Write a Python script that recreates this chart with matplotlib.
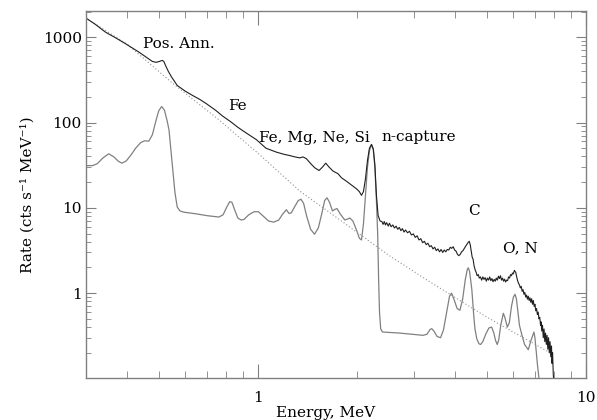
import matplotlib
matplotlib.use("Agg")
import matplotlib.pyplot as plt
from matplotlib.ticker import FixedLocator, LogLocator, NullFormatter, FixedFormatter

plt.rcParams['font.family'] = 'DejaVu Serif'

# Total measured spectrum (energy in MeV, rate in cts/s/MeV)
total_E = [0.299, 0.32, 0.344, 0.37, 0.396, 0.435, 0.478, 0.491, 0.502, 0.512,
           0.518, 0.524, 0.535, 0.547, 0.569, 0.60, 0.633, 0.666, 0.70, 0.745,
           0.78, 0.831, 0.87, 0.92, 0.991, 1.06, 1.14, 1.20, 1.252, 1.30,
           1.343, 1.375, 1.408, 1.45, 1.492, 1.538, 1.575, 1.612, 1.65, 1.696,
           1.757, 1.80, 1.864, 1.93, 2.00, 2.04, 2.071, 2.10, 2.13, 2.16,
           2.19, 2.222, 2.25, 2.275, 2.30, 2.327,
           2.36, 2.39, 2.41, 2.43, 2.45, 2.47, 2.50, 2.52, 2.55, 2.58,
           2.61, 2.64, 2.67, 2.70, 2.73, 2.76, 2.79, 2.82, 2.86, 2.90,
           2.94, 2.98, 3.02, 3.06, 3.10, 3.14, 3.18, 3.22, 3.26, 3.30,
           3.34, 3.38, 3.42, 3.46, 3.50, 3.54, 3.58, 3.62, 3.66, 3.70,
           3.74, 3.78, 3.82, 3.86, 3.90, 3.94, 3.98, 4.02, 4.06, 4.10,
           4.14, 4.18, 4.22, 4.26, 4.30, 4.34, 4.38, 4.41, 4.44, 4.47,
           4.50, 4.53, 4.56, 4.60, 4.63, 4.66, 4.70, 4.73, 4.77, 4.81,
           4.85, 4.89, 4.93, 4.97, 5.01, 5.05, 5.09, 5.13, 5.17, 5.21,
           5.25, 5.29, 5.33, 5.37, 5.41, 5.45, 5.49, 5.53, 5.57, 5.61,
           5.65, 5.69, 5.73, 5.77, 5.81, 5.85, 5.89, 5.93, 5.97, 6.01,
           6.05, 6.08, 6.11, 6.15, 6.19, 6.23, 6.27, 6.31, 6.35, 6.39,
           6.43, 6.47, 6.51, 6.55, 6.59, 6.63, 6.67, 6.71, 6.75, 6.79,
           6.83, 6.87, 6.91, 6.95, 6.99, 7.03, 7.07, 7.11, 7.15, 7.19,
           7.23, 7.27, 7.30, 7.33, 7.37, 7.41, 7.45, 7.49, 7.53, 7.57,
           7.61, 7.65, 7.69, 7.73, 7.77, 7.81, 7.85, 7.88, 7.91, 7.95,
           7.98]
total_R = [1693, 1420, 1147, 980, 839, 669, 520, 508, 520, 535,
           520, 467, 395, 341, 272, 235, 208, 187, 165, 139,
           120, 101, 88, 76, 63, 50, 45, 42.5, 41, 39.5,
           38.5, 39.5, 37.6, 33, 29.5, 27.4, 30, 33.4, 30, 27,
           25.1, 22.5, 20.5, 18.5, 16.7, 15.5, 14.0, 15.5, 22, 36,
           50, 55.4, 49, 32, 14, 8.15,
           7.0, 6.9, 6.4, 6.9, 6.3, 6.7, 6.1, 6.6, 6.0, 6.3,
           5.8, 6.1, 5.6, 5.9, 5.4, 5.7, 5.2, 5.5, 5.1, 5.3,
           4.8, 4.95, 4.5, 4.7, 4.2, 4.35, 3.9, 4.05, 3.7, 3.85,
           3.5, 3.6, 3.3, 3.45, 3.15, 3.3, 3.05, 3.25, 3.0, 3.2,
           3.05, 3.25, 3.2, 3.45, 3.35, 3.5, 3.2, 3.1, 2.85, 2.75,
           2.85, 3.05, 3.15, 3.35, 3.55, 3.75, 3.95, 4.05, 3.7, 3.1,
           2.65, 2.5, 2.1, 1.85, 1.75, 1.6, 1.65, 1.5, 1.55, 1.42,
           1.55, 1.45, 1.52, 1.38, 1.5, 1.42, 1.55, 1.4, 1.48, 1.36,
           1.45, 1.38, 1.5, 1.42, 1.58, 1.48, 1.6, 1.42, 1.5, 1.38,
           1.46, 1.35, 1.42, 1.4, 1.55, 1.5, 1.65, 1.6, 1.72, 1.68,
           1.85, 1.8, 1.75, 1.55, 1.4, 1.3, 1.25, 1.15, 1.2, 1.05,
           1.1, 0.97, 1.02, 0.9, 0.95, 0.85, 0.92, 0.82, 0.88, 0.78,
           0.86, 0.74, 0.82, 0.7, 0.74, 0.62, 0.66, 0.56, 0.6, 0.5,
           0.52, 0.42, 0.46, 0.36, 0.42, 0.3, 0.38, 0.27, 0.34, 0.25,
           0.32, 0.22, 0.3, 0.2, 0.27, 0.18, 0.24, 0.15, 0.2, 0.11,
           0.09]

# Line (photopeak) model
lines_E = [0.299, 0.315, 0.325, 0.338, 0.352, 0.365, 0.377, 0.386, 0.398, 0.412,
           0.425, 0.44, 0.452, 0.466, 0.478, 0.490, 0.500, 0.510, 0.520, 0.530,
           0.537, 0.545, 0.552, 0.560, 0.569, 0.580, 0.595, 0.65, 0.70, 0.762,
           0.785, 0.805, 0.822, 0.835, 0.850, 0.870, 0.890, 0.908, 0.94, 0.975,
           1.005, 1.04, 1.08, 1.12, 1.16, 1.19, 1.223, 1.245, 1.265, 1.30,
           1.33, 1.355, 1.38, 1.41, 1.45, 1.49, 1.53, 1.565, 1.600, 1.627,
           1.655, 1.690, 1.72, 1.745, 1.78, 1.842, 1.88, 1.908, 1.95, 2.00,
           2.04, 2.071, 2.10, 2.13, 2.16, 2.19, 2.222, 2.25, 2.275, 2.30,
           2.32, 2.335, 2.35, 2.37, 2.40, 2.71, 3.19, 3.28, 3.35, 3.39,
           3.44, 3.52, 3.606, 3.68, 3.77, 3.84, 3.895, 3.96, 4.05, 4.13,
           4.21, 4.29, 4.35, 4.38, 4.42, 4.49, 4.55, 4.59, 4.65, 4.72,
           4.775, 4.85, 4.95, 5.06, 5.16, 5.24, 5.30, 5.366, 5.42, 5.50,
           5.60, 5.66, 5.76, 5.84, 5.93, 6.01, 6.08, 6.14, 6.20, 6.27,
           6.37, 6.50, 6.67, 6.80, 6.94, 6.99, 7.05, 7.12, 7.19, 7.26]
lines_R = [31.2, 31.3, 33, 38.5, 43, 39.5, 35, 33.4, 35.5, 42,
           50, 58, 61, 60.5, 72, 105, 138, 154, 140, 105,
           82, 45, 27, 15, 10.2, 9.2, 8.9, 8.5, 8.1, 7.8,
           8.3, 10.2, 11.8, 11.6, 9.6, 7.6, 7.2, 7.3, 8.3, 9.0,
           9.0, 8.0, 7.0, 6.8, 7.2, 8.4, 9.5, 8.6, 8.7, 10.5,
           12.2, 12.6, 11.3, 8.0, 5.6, 4.9, 5.8, 8.3, 12.2, 13.1,
           11.6, 9.2, 9.6, 9.8, 8.6, 7.2, 7.4, 7.6, 7.0, 5.5,
           4.4, 4.2, 6.5, 14, 30, 47, 55, 48, 30, 12,
           5, 1.5, 0.6, 0.38, 0.35, 0.34, 0.32, 0.33, 0.375, 0.383,
           0.36, 0.31, 0.30, 0.37, 0.62, 0.92, 1.0, 0.85, 0.66, 0.63,
           0.85, 1.45, 1.9, 1.98, 1.8, 1.1, 0.55, 0.38, 0.29, 0.255,
           0.25, 0.27, 0.33, 0.39, 0.40, 0.34, 0.28, 0.25, 0.28, 0.42,
           0.58, 0.52, 0.40, 0.45, 0.70, 0.90, 0.97, 0.85, 0.62, 0.42,
           0.33, 0.25, 0.217, 0.28, 0.35, 0.30, 0.21, 0.14, 0.10, 0.08]

# Continuum (dotted)
cont_E = [0.299, 0.40, 0.55, 0.75, 1.0, 1.35, 1.8, 2.5, 3.3, 5.0, 7.86]
cont_R = [1693, 830, 290, 113, 44, 15.5, 7.0, 2.8, 1.4, 0.52, 0.195]

fig = plt.figure(figsize=(5.97, 4.2), dpi=100)
ax = fig.add_axes([0.144, 0.099, 0.8376, 0.8748])

ax.plot(lines_E, lines_R, color='#808080', lw=0.9)
ax.plot(cont_E, cont_R, color='#909090', lw=0.8, ls=(0, (1, 2)))
ax.plot(total_E, total_R, color='#202020', lw=0.8)

ax.set_xscale('log')
ax.set_yscale('log')
ax.set_xlim(0.3, 10)
ax.set_ylim(0.1, 2030)

ax.xaxis.set_major_locator(FixedLocator([1, 10]))
ax.xaxis.set_major_formatter(FixedFormatter(['1', '10']))
ax.xaxis.set_minor_locator(LogLocator(base=10, subs=range(2, 10)))
ax.xaxis.set_minor_formatter(NullFormatter())
ax.yaxis.set_major_locator(FixedLocator([1, 10, 100, 1000]))
ax.yaxis.set_major_formatter(FixedFormatter(['1', '10', '100', '1000']))
ax.yaxis.set_minor_locator(LogLocator(base=10, subs=range(2, 10)))
ax.yaxis.set_minor_formatter(NullFormatter())

for s in ax.spines.values():
    s.set_color('#808080')
    s.set_linewidth(1.0)
ax.tick_params(axis='both', which='both', direction='in', top=True, right=True,
               color='#808080', labelsize=11)
ax.tick_params(axis='x', which='major', length=10, pad=9)
ax.tick_params(axis='x', which='minor', length=5)
ax.tick_params(axis='y', which='major', length=7, pad=3)
ax.tick_params(axis='y', which='minor', length=3.6)

ax.set_xlabel('Energy, MeV', fontsize=11, labelpad=1)
ax.xaxis.set_label_coords(0.48, -0.075)
ax.set_ylabel('Rate (cts s\u207b\u00b9 MeV\u207b\u00b9)', fontsize=11, labelpad=6)

ax.text(0.449, 839, 'Pos. Ann.', fontsize=11, va='center', ha='left')
ax.text(0.869, 154.5, 'Fe', fontsize=11, va='center', ha='center')
ax.text(1.007, 65.1, 'Fe, Mg, Ne, Si', fontsize=11, va='center', ha='left')
ax.text(2.379, 66.9, 'n-capture', fontsize=11, va='center', ha='left')
ax.text(4.556, 9.07, 'C', fontsize=11, va='center', ha='center')
ax.text(6.29, 3.34, 'O, N', fontsize=11, va='center', ha='center')

fig.savefig('out.png', dpi=100)
